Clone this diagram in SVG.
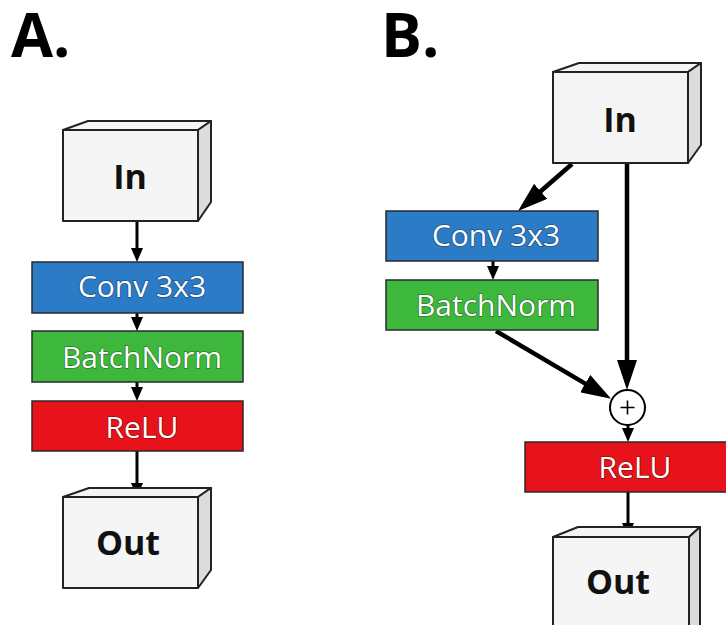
<svg xmlns="http://www.w3.org/2000/svg" width="726" height="625" viewBox="0 0 726 625">
  <style>
    .heading { font-family: "Open Sans", "DejaVu Sans", sans-serif; font-weight: 700; font-size: 61px; fill: #000; }
    .boxlabel { font-family: "Open Sans", "DejaVu Sans", sans-serif; font-weight: 700; font-size: 34px; fill: #111; text-anchor: middle; }
    .barlabel { font-family: "Open Sans", "DejaVu Sans", sans-serif; font-weight: 400; font-size: 30px; fill: #fff; text-anchor: middle; stroke: rgba(0,0,0,0.35); stroke-width: 1.6px; paint-order: stroke; }
    .front { fill: #f5f5f5; stroke: #222; stroke-width: 2; stroke-linejoin: round; }
    .top { fill: #f5f5f5; stroke: #222; stroke-width: 2; stroke-linejoin: round; }
    .side { fill: #dcdcdc; stroke: #222; stroke-width: 2; stroke-linejoin: round; }
    .conv { fill: #2c7bc7; stroke: #2a2a2a; stroke-width: 1.5; }
    .bn { fill: #3db83d; stroke: #2a2a2a; stroke-width: 1.5; }
    .relu { fill: #e8121a; stroke: #2a2a2a; stroke-width: 1.5; }
    .thin { stroke: #000; stroke-width: 3; fill: none; marker-end: url(#headSmall); }
    .thick { stroke: #000; stroke-width: 4.5; fill: none; marker-end: url(#headLarge); }
  </style>
  <defs>
    <marker id="headSmall" markerUnits="userSpaceOnUse" markerWidth="14" markerHeight="12" refX="2" refY="6" orient="auto">
      <path d="M0,0 L14,6 L0,12 Z" fill="#000"/>
    </marker>
    <marker id="headLarge" markerUnits="userSpaceOnUse" markerWidth="30" markerHeight="20" refX="3" refY="10" orient="auto">
      <path d="M0,0 L30,10 L0,20 Z" fill="#000"/>
    </marker>
  </defs>

  <rect width="726" height="625" fill="#fff"/>

  <!-- panel headings -->
  <text class="heading" x="11" y="57">A.</text>
  <text class="heading" x="381" y="57">B.</text>

  <!-- connectors -->
  <g id="connectors">
    <!-- panel A -->
    <line class="thin" x1="137" y1="222" x2="137" y2="250"/>
    <line class="thin" x1="137" y1="313" x2="137" y2="319"/>
    <line class="thin" x1="137" y1="382" x2="137" y2="389"/>
    <line class="thin" x1="137" y1="451" x2="137" y2="485"/>
    <!-- panel B -->
    <line class="thick" x1="572" y1="164" x2="538.4" y2="193.3"/>
    <line class="thick" x1="627" y1="164" x2="627" y2="363"/>
    <line class="thin" x1="493" y1="261" x2="493" y2="268"/>
    <line class="thick" x1="496" y1="331" x2="587.8" y2="385.1"/>
    <line class="thin" x1="628" y1="425" x2="628" y2="430"/>
    <line class="thin" x1="628" y1="492" x2="628" y2="525"/>
  </g>

  <!-- panel A nodes -->
  <g id="a-in">
    <polygon class="top" points="63,130 88,121 211,121 198,130"/>
    <polygon class="side" points="198,130 211,121 211,202 198,221"/>
    <rect class="front" x="63" y="130" width="135" height="91"/>
    <text class="boxlabel" x="130" y="189">In</text>
  </g>
  <g id="a-conv">
    <rect class="conv" x="32" y="262" width="211" height="51"/>
    <text class="barlabel" x="142" y="297">Conv 3x3</text>
  </g>
  <g id="a-batchnorm">
    <rect class="bn" x="32" y="331" width="211" height="51"/>
    <text class="barlabel" x="142" y="368">BatchNorm</text>
  </g>
  <g id="a-relu">
    <rect class="relu" x="32" y="401" width="211" height="50"/>
    <text class="barlabel" x="142" y="438">ReLU</text>
  </g>
  <g id="a-out">
    <polygon class="top" points="63,497 89,488 211,488 198,497"/>
    <polygon class="side" points="198,497 211,488 211,570 198,588"/>
    <rect class="front" x="63" y="497" width="135" height="91"/>
    <text class="boxlabel" x="128" y="555">Out</text>
  </g>

  <!-- panel B nodes -->
  <g id="b-in">
    <polygon class="top" points="553,72 579,63 701,63 688,72"/>
    <polygon class="side" points="688,72 701,63 701,145 688,163"/>
    <rect class="front" x="553" y="72" width="135" height="91"/>
    <text class="boxlabel" x="620" y="132">In</text>
  </g>
  <g id="b-conv">
    <rect class="conv" x="386" y="211" width="212" height="50"/>
    <text class="barlabel" x="496" y="246">Conv 3x3</text>
  </g>
  <g id="b-batchnorm">
    <rect class="bn" x="386" y="280" width="212" height="50"/>
    <text class="barlabel" x="496" y="316">BatchNorm</text>
  </g>
  <g id="b-add">
    <circle cx="627.5" cy="407.5" r="17.5" fill="#fff" stroke="#000" stroke-width="2"/>
    <path d="M620.5,407.5 H634.5 M627.5,400.5 V414.5" stroke="#000" stroke-width="1.6"/>
  </g>
  <g id="b-relu">
    <rect class="relu" x="525" y="442" width="203" height="50"/>
    <text class="barlabel" x="635" y="478">ReLU</text>
  </g>
  <g id="b-out">
    <polygon class="top" points="553,537 578,527 700,527 689,537"/>
    <polygon class="side" points="689,537 700,527 700,627 689,627"/>
    <rect class="front" x="553" y="537" width="136" height="95"/>
    <text class="boxlabel" x="618" y="594">Out</text>
  </g>
</svg>
